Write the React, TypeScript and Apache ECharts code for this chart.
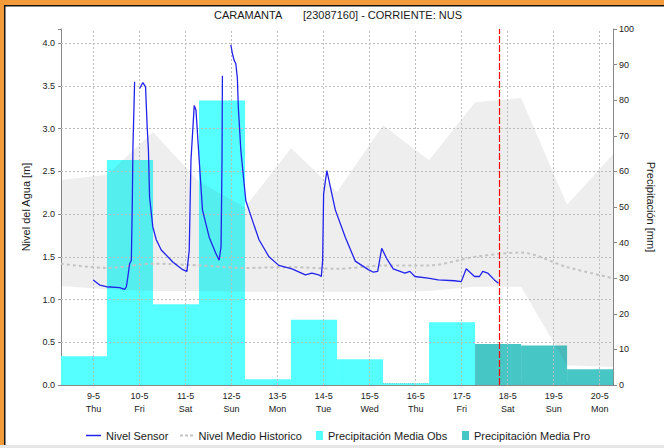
import { useEffect, useRef } from 'react';
import * as echarts from 'echarts';

const TITLE = 'CARAMANTA       [23087160] - CORRIENTE: NUS';

// x axis: hours counted from 8-5 07:00 (plot start) to 20-5 07:00 (plot end)
const X_MIN = 0;
const X_MAX = 288;

// tick labels at midnight of each day
const labelHours = [17, 41, 65, 89, 113, 137, 161, 185, 209, 233, 257, 281];
const dayLabels = ['9-5', '10-5', '11-5', '12-5', '13-5', '14-5', '15-5', '16-5', '17-5', '18-5', '19-5', '20-5'];
const weekdays = ['Thu', 'Fri', 'Sat', 'Sun', 'Mon', 'Tue', 'Wed', 'Thu', 'Fri', 'Sat', 'Sun', 'Mon'];

// daily precipitation periods (07:00 - 07:00)
const precipDays = ['8-5', '9-5', '10-5', '11-5', '12-5', '13-5', '14-5', '15-5', '16-5', '17-5', '18-5', '19-5'];
const precipObs = [8.1, 63.2, 22.7, 79.9, 1.6, 18.3, 7.2, 0.5, 17.6, null, null, null];
const precipPro = [null, null, null, null, null, null, null, null, null, 11.5, 11.1, 4.4];

// historical band and mean at day boundaries
const histHours = [0, 24, 48, 72, 96, 120, 144, 168, 192, 216, 240, 264, 288];
const histHigh = [2.4, 2.46, 2.96, 2.38, 2.08, 2.77, 2.26, 3.04, 2.63, 3.31, 3.36, 2.11, 2.7];
const histLow = [1.16, 1.12, 1.1, 1.1, 1.09, 1.09, 1.09, 1.09, 1.1, 1.15, 1.15, 0.23, 0.21];
const histMean = [1.42, 1.37, 1.42, 1.4, 1.37, 1.38, 1.36, 1.4, 1.4, 1.5, 1.55, 1.38, 1.25];

// sensor water level (null = data gap)
const sensorHours = [
  16.8, 20.2, 23.7, 30.6, 33.2, 34.1, 34.9, 35.8, 36.7, 37.2, 37.5, 38.4, 39.6,
  41.0, 42.7, 44.1, 45.0, 45.6, 46.2, 47.9, 49.7, 52.3, 56.6, 58.3, 63.5, 65.7,
  66.9, 67.8, 69.5, 70.4, 72.1, 73.8, 77.3, 80.8, 82.5, 83.5, 84.0, 84.2, 86.0,
  88.6, 89.4, 90.3, 91.2, 92.0, 92.5, 92.9, 93.8, 96.4, 99.8, 103.3, 108.5, 113.6,
  120.5, 127.5, 130.9, 134.4, 135.8, 136.5, 137.0, 138.7, 140.5, 143.1, 148.3, 153.5,
  160.3, 163.0, 165.2, 167.3, 169.9, 173.3, 179.4, 182.0, 184.6, 191.5, 196.7, 205.3,
  208.8, 211.4, 215.7, 218.3, 220.0, 222.6, 226.1, 228.2,
];
const sensorLevel = [
  1.23, 1.17, 1.15, 1.14, 1.12, 1.15, 1.27, 1.42, 1.46, 2.14, 2.75, 3.55, null,
  3.47, 3.54, 3.49, 3.0, 2.75, 2.2, 1.85, 1.7, 1.58, 1.48, 1.44, 1.35, 1.33,
  1.58, 2.63, 3.27, 3.22, 2.63, 2.05, 1.73, 1.54, 1.46, 1.62, 2.63, 3.62, null,
  3.98, 3.88, 3.8, 3.76, 3.59, 3.25, 3.1, 2.75, 2.16, 1.93, 1.7, 1.5, 1.4,
  1.36, 1.29, 1.31, 1.29, 1.27, 1.46, 2.24, 2.51, 2.32, 2.05, 1.73, 1.45,
  1.35, 1.32, 1.33, 1.6, 1.48, 1.36, 1.31, 1.33, 1.27, 1.25, 1.23, 1.22,
  1.21, 1.36, 1.27, 1.27, 1.33, 1.31, 1.23, 1.19,
];

const nowHour = 228.6;

const levelTicks = [0.5, 1.0, 1.5, 2.0, 2.5, 3.0, 3.5, 4.0];
const LEVEL_MAX = 100 / 24;

const FONT = '"Liberation Sans", Arial, sans-serif';

export default function App() {
  const ref = useRef<HTMLDivElement>(null);

  useEffect(() => {
    document.body.style.margin = '0';
    const chart = echarts.init(ref.current!, null, { renderer: 'svg' });

    const zip = (a: number[], b: (number | null)[]) => a.map((v, i) => [v, b[i]]);
    const legendText = { fontSize: 11, color: '#1a1a1a', fontFamily: FONT };

    const option: any = {
      animation: false,
      textStyle: { fontFamily: FONT },
      title: {
        text: TITLE,
        left: 214,
        top: 9,
        padding: 0,
        textStyle: { fontSize: 11, fontWeight: 'normal', color: '#1a1a1a', fontFamily: FONT },
      },
      legend: [
        {
          data: [{ name: 'Nivel Sensor', icon: 'rect', itemStyle: { color: '#2222ee' } }],
          left: 86, top: 430, padding: 0, itemWidth: 15, itemHeight: 1.5,
          selectedMode: false, textStyle: legendText,
        },
        {
          data: [{
            name: 'Nivel Medio Historico',
            icon: 'path://M0,0h3v2h-3zM5,0h3v2h-3zM10,0h3v2h-3z',
            itemStyle: { color: '#c4c4c4' },
          }],
          left: 180, top: 430, padding: 0, itemWidth: 14, itemHeight: 2,
          selectedMode: false, textStyle: legendText,
        },
        {
          data: [{ name: 'Precipitación Media Obs', icon: 'rect' }], left: 316, top: 430, padding: 0,
          itemWidth: 7, itemHeight: 9, selectedMode: false, textStyle: legendText,
        },
        {
          data: [{ name: 'Precipitación Media Pro', icon: 'rect' }], left: 462, top: 430, padding: 0,
          itemWidth: 7, itemHeight: 9, selectedMode: false, textStyle: legendText,
        },
      ],
      grid: { left: 61, right: 48, top: 29, bottom: 63, containLabel: false },
      xAxis: [
        {
          type: 'value',
          min: X_MIN,
          max: X_MAX,
          interval: 1,
          axisLine: { show: true, lineStyle: { color: '#888', width: 1 } },
          axisTick: { show: true, inside: true, length: 2, lineStyle: { color: '#777', width: 1 } },
          splitLine: { show: false },
          axisLabel: {
            show: true,
            customValues: labelHours,
            fontSize: 9,
            lineHeight: 13,
            margin: 4,
            color: '#222',
            fontFamily: FONT,
            formatter: (v: number) => {
              const i = labelHours.indexOf(Math.round(v));
              return i >= 0 ? dayLabels[i] + '\n' + weekdays[i] : '';
            },
          },
        },
        {
          type: 'category',
          data: precipDays,
          position: 'top',
          boundaryGap: true,
          axisLine: { show: true, lineStyle: { color: '#888', width: 1 } },
          axisTick: { show: false },
          axisLabel: { show: false },
          splitLine: { show: false },
        },
      ],
      yAxis: [
        {
          type: 'value',
          min: 0,
          max: LEVEL_MAX,
          interval: 0.5,
          position: 'left',
          name: 'Nivel del Agua [m]',
          nameLocation: 'middle',
          nameRotate: 90,
          nameGap: 25,
          nameTextStyle: { fontSize: 11, color: '#1a1a1a', fontFamily: FONT },
          axisLine: { show: true, lineStyle: { color: '#888', width: 1 } },
          axisTick: { show: true, length: 3, lineStyle: { color: '#888' } },
          splitLine: { show: false },
          axisLabel: {
            fontSize: 9, margin: 6, color: '#222', fontFamily: FONT,
            formatter: (v: number) => (v > 4.05 ? '' : v.toFixed(1)),
          },
        },
        {
          type: 'value',
          min: 0,
          max: 100,
          interval: 10,
          position: 'right',
          name: 'Precipitación [mm]',
          nameLocation: 'middle',
          nameRotate: -90,
          nameGap: 31,
          nameTextStyle: { fontSize: 11, color: '#1a1a1a', fontFamily: FONT },
          axisLine: { show: true, lineStyle: { color: '#888', width: 1 } },
          axisTick: { show: true, length: 4, lineStyle: { color: '#888' } },
          splitLine: { show: false },
          axisLabel: { fontSize: 9, margin: 6, color: '#222', fontFamily: FONT },
        },
      ],
      series: [
        {
          name: 'Precipitación Media Obs',
          type: 'bar',
          xAxisIndex: 1,
          yAxisIndex: 1,
          data: precipObs,
          barWidth: '100%',
          barGap: '-100%',
          itemStyle: { color: '#55ffff' },
          z: 1,
        },
        {
          name: 'Precipitación Media Pro',
          type: 'bar',
          xAxisIndex: 1,
          yAxisIndex: 1,
          data: precipPro,
          barWidth: '100%',
          barGap: '-100%',
          itemStyle: { color: '#47c6c6' },
          z: 1,
        },
        {
          name: 'bandHistorico',
          type: 'custom',
          xAxisIndex: 0,
          yAxisIndex: 0,
          silent: true,
          clip: true,
          z: 2,
          data: histHours.map((h, i) => [h, histLow[i], histHigh[i]]),
          encode: { x: 0, y: [1, 2] },
          renderItem: (params: any, api: any) => {
            if (params.dataIndex !== 0) return null;
            const upper = histHours.map((h, i) => api.coord([h, histHigh[i]]));
            const lower = histHours.map((h, i) => api.coord([h, histLow[i]])).reverse();
            return {
              type: 'polygon',
              shape: { points: [...upper, ...lower] },
              style: { fill: 'rgba(90,90,90,0.1)' },
            };
          },
        },
        {
          name: 'gridLines',
          type: 'line',
          xAxisIndex: 0,
          yAxisIndex: 0,
          data: [],
          z: 3,
          markLine: {
            silent: true,
            symbol: ['none', 'none'],
            label: { show: false },
            lineStyle: { color: '#bdbdbd', type: [2, 2], width: 1 },
            data: [
              ...labelHours.map((h) => ({ xAxis: h })),
              ...levelTicks.map((v) => ({ yAxis: v })),
            ],
          },
        },
        {
          name: 'Nivel Medio Historico',
          type: 'line',
          xAxisIndex: 0,
          yAxisIndex: 0,
          data: zip(histHours, histMean),
          symbol: 'none',
          smooth: 0.3,
          color: '#c4c4c4',
          lineStyle: { color: '#c4c4c4', width: 2, type: [3, 3] },
          z: 4,
        },
        {
          name: 'Nivel Sensor',
          type: 'line',
          xAxisIndex: 0,
          yAxisIndex: 0,
          data: zip(sensorHours, sensorLevel),
          symbol: 'none',
          connectNulls: false,
          color: '#2222ee',
          lineStyle: { color: '#2222ee', width: 1.3 },
          z: 5,
        },
        {
          name: 'now',
          type: 'line',
          xAxisIndex: 0,
          yAxisIndex: 0,
          data: [],
          color: '#ff0000',
          z: 6,
          markLine: {
            silent: true,
            symbol: ['none', 'none'],
            label: { show: false },
            lineStyle: { color: '#ff0000', type: [7, 2], width: 1.2, opacity: 1 },
            emphasis: { disabled: true },
            data: [{ xAxis: nowHour }],
          },
        },
      ],
      graphic: [
        { type: 'rect', shape: { x: 0, y: 0, width: 664, height: 5 }, style: { fill: '#f39a3a' }, z: 100 },
        { type: 'rect', shape: { x: 0, y: 0, width: 4, height: 448 }, style: { fill: '#f39a3a' }, z: 100 },
        { type: 'rect', shape: { x: 4, y: 5, width: 660, height: 1.5 }, style: { fill: '#151515' }, z: 100 },
        { type: 'rect', shape: { x: 4, y: 5, width: 1.5, height: 443 }, style: { fill: '#151515' }, z: 100 },
        { type: 'rect', shape: { x: 0, y: 445, width: 664, height: 3 }, style: { fill: '#e6e6e6' }, z: 100 },
      ],
    };

    chart.setOption(option);
    return () => chart.dispose();
  }, []);

  return (
    <div
      ref={ref}
      style={{ position: 'absolute', left: 0, top: 0, width: 664, height: 448, background: '#fff' }}
    />
  );
}
